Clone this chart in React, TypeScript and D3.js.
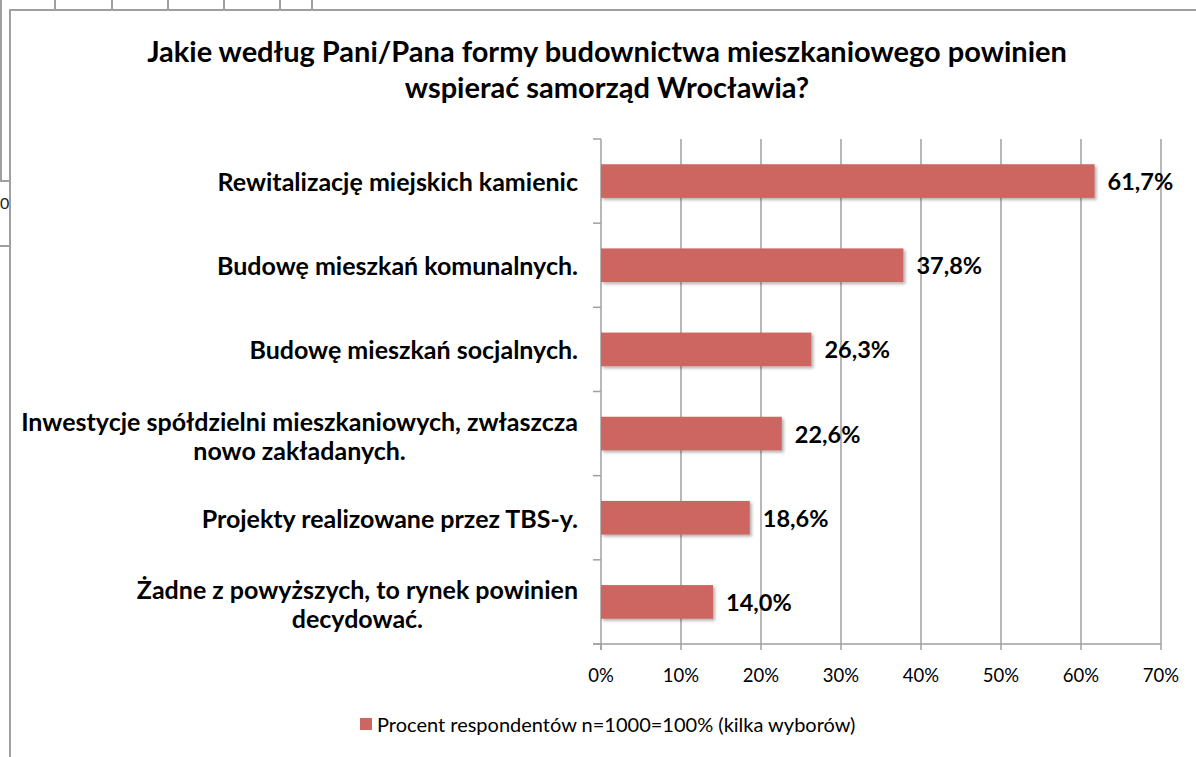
import React, { useEffect, useRef } from "react";
import { select, scaleLinear, scaleBand, range, formatLocale } from "d3";

// data
const categories = [
  "Rewitalizację miejskich kamienic",
  "Budowę mieszkań komunalnych.",
  "Budowę mieszkań socjalnych.",
  "Inwestycje spółdzielni mieszkaniowych, zwłaszcza\nnowo zakładanych.",
  "Projekty realizowane przez TBS-y.",
  "Żadne z powyższych, to rynek powinien\ndecydować.",
];
const values = [0.617, 0.378, 0.263, 0.226, 0.186, 0.14];
const xTicks = [0, 0.1, 0.2, 0.3, 0.4, 0.5, 0.6, 0.7];
const titleLines = [
  "Jakie według Pani/Pana formy budownictwa mieszkaniowego powinien",
  "wspierać samorząd Wrocławia?",
];
const legendLabel = "Procent respondentów n=1000=100% (kilka wyborów)";

const W = 1196;
const H = 757;
const FONT = "Lato, 'Open Sans', sans-serif";
const BAR = "#cd6660";
const GRID = "#a0a0a0";

const pl = formatLocale({ decimal: ",", thousands: " ", grouping: [3], currency: ["", " zł"] });
const fmtVal = (v: number) => pl.format(".1f")(v * 100) + "%";
const fmtTick = (v: number) => Math.round(v * 100) + "%";

function App() {
  const svgRef = useRef<SVGSVGElement>(null);

  useEffect(() => {
    const svg = select(svgRef.current);
    svg.selectAll("*").remove();

    const x = scaleLinear().domain([0, 0.7]).range([601, 1161]);
    const y = scaleBand<string>()
      .domain(categories)
      .range([139, 644])
      .paddingInner(0.6)
      .paddingOuter(0.3);
    const step = y.step();
    const y0 = 139;
    const y1 = 644;

    const defs = svg.append("defs");
    const f = defs
      .append("filter")
      .attr("id", "shadow")
      .attr("x", "-5%")
      .attr("y", "-20%")
      .attr("width", "115%")
      .attr("height", "160%");
    f.append("feDropShadow")
      .attr("dx", 2)
      .attr("dy", 2)
      .attr("stdDeviation", 1.5)
      .attr("flood-color", "#000")
      .attr("flood-opacity", 0.3);

    svg.append("rect").attr("width", W).attr("height", H).attr("fill", "#fff");

    // leftovers of the sheet behind the chart
    const bg = svg.append("g").attr("stroke", GRID).attr("stroke-width", 2);
    [55, 112, 168, 224, 280, 312].forEach((xx) =>
      bg.append("line").attr("x1", xx).attr("x2", xx).attr("y1", 0).attr("y2", 10)
    );
    bg.append("line").attr("x1", 1).attr("x2", 1).attr("y1", 0).attr("y2", 181);
    bg.append("line").attr("x1", 0).attr("x2", 10).attr("y1", 181).attr("y2", 181);
    bg.append("line").attr("x1", 0).attr("x2", 10).attr("y1", 246).attr("y2", 246);
    svg
      .append("text")
      .attr("x", 0)
      .attr("y", 209)
      .attr("font-family", FONT)
      .attr("font-size", 16)
      .attr("fill", "#222")
      .text("0");

    // chart frame
    svg
      .append("rect")
      .attr("x", 10)
      .attr("y", 10)
      .attr("width", W + 10)
      .attr("height", H + 10)
      .attr("fill", "#fff")
      .attr("stroke", GRID)
      .attr("stroke-width", 2);

    // title
    svg
      .append("g")
      .selectAll("text")
      .data(titleLines)
      .join("text")
      .attr("x", 607)
      .attr("y", (_, i) => 62 + i * 36)
      .attr("text-anchor", "middle")
      .attr("font-family", FONT)
      .attr("font-weight", "bold")
      .attr("font-size", 29)
      .attr("fill", "#000")
      .text((d) => d);

    // gridlines
    svg
      .append("g")
      .selectAll("line")
      .data(xTicks.slice(1))
      .join("line")
      .attr("x1", (d) => x(d))
      .attr("x2", (d) => x(d))
      .attr("y1", y0)
      .attr("y2", y1)
      .attr("stroke", GRID)
      .attr("stroke-width", 1.5);

    // axes
    const ax = svg.append("g").attr("stroke", GRID).attr("stroke-width", 1.5);
    ax.append("line").attr("x1", x(0)).attr("x2", x(0)).attr("y1", y0).attr("y2", y1 + 6);
    ax.append("line").attr("x1", x(0) - 8).attr("x2", x(0.7)).attr("y1", y1).attr("y2", y1);
    range(categories.length + 1).forEach((i) =>
      ax
        .append("line")
        .attr("x1", x(0) - 8)
        .attr("x2", x(0))
        .attr("y1", y0 + i * step)
        .attr("y2", y0 + i * step)
    );
    xTicks.forEach((t) =>
      ax.append("line").attr("x1", x(t)).attr("x2", x(t)).attr("y1", y1).attr("y2", y1 + 6)
    );

    svg
      .append("g")
      .selectAll("text")
      .data(xTicks)
      .join("text")
      .attr("x", (d) => x(d))
      .attr("y", 682)
      .attr("text-anchor", "middle")
      .attr("font-family", FONT)
      .attr("font-size", 18.5)
      .attr("fill", "#000")
      .text(fmtTick);

    // bars
    svg
      .append("g")
      .selectAll("rect")
      .data(values)
      .join("rect")
      .attr("x", x(0))
      .attr("y", (_, i) => y(categories[i])!)
      .attr("width", (d) => x(d) - x(0))
      .attr("height", y.bandwidth())
      .attr("fill", BAR)
      .attr("filter", "url(#shadow)");

    svg
      .append("g")
      .selectAll("text")
      .data(values)
      .join("text")
      .attr("x", (d) => x(d) + 13)
      .attr("y", (_, i) => y(categories[i])! + y.bandwidth() / 2 + 9)
      .attr("font-family", FONT)
      .attr("font-weight", "bold")
      .attr("font-size", 23.5)
      .attr("fill", "#000")
      .text(fmtVal);

    // category labels: block right-aligned, lines centred within the block
    const right = 578;
    categories.forEach((c) => {
      const lines = c.split("\n");
      const cy = y(c)! + y.bandwidth() / 2 + (lines.length > 1 ? 4 : 2);
      const g = svg.append("g");
      const texts = g
        .selectAll("text")
        .data(lines)
        .join("text")
        .attr("y", (_, i) => cy + 8 + (i - (lines.length - 1) / 2) * 29)
        .attr("text-anchor", "middle")
        .attr("font-family", FONT)
        .attr("font-weight", "bold")
        .attr("font-size", 25)
        .attr("fill", "#000")
        .text((d) => d);
      let maxW = 0;
      texts.each(function () {
        maxW = Math.max(maxW, (this as SVGTextElement).getComputedTextLength());
      });
      texts.attr("x", right - maxW / 2);
    });

    // legend
    svg
      .append("rect")
      .attr("x", 360)
      .attr("y", 718)
      .attr("width", 12)
      .attr("height", 12)
      .attr("fill", BAR);
    svg
      .append("text")
      .attr("x", 377)
      .attr("y", 732)
      .attr("font-family", FONT)
      .attr("font-size", 20)
      .attr("fill", "#000")
      .text(legendLabel);
  }, []);

  return (
    <div style={{ position: "absolute", left: 0, top: 0 }}>
      <svg ref={svgRef} width={W} height={H} style={{ display: "block" }} />
    </div>
  );
}

export default App;
